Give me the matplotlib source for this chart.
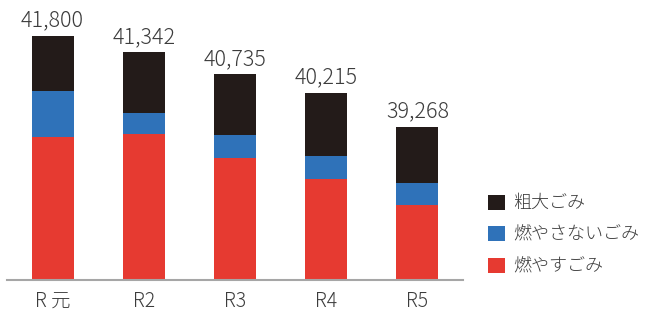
import matplotlib
matplotlib.use('Agg')
import matplotlib.pyplot as plt

plt.rcParams['font.family'] = ['Noto Sans CJK JP', 'DejaVu Sans']
plt.rcParams['font.weight'] = 'light'

# データ
years = ['R 元', 'R2', 'R3', 'R4', 'R5']
moyasu = [38985, 39077, 38408, 37815, 37090]   # 燃やすごみ
moyasanai = [1282, 577, 633, 641, 613]         # 燃やさないごみ
sodai = [1533, 1688, 1694, 1759, 1565]         # 粗大ごみ
totals = [41800, 41342, 40735, 40215, 39268]

c_red = '#e63a31'
c_blue = '#2f72b9'
c_black = '#231b19'
c_text = '#3c3c3c'

fig = plt.figure(figsize=(6.46, 3.16), dpi=100)
ax = fig.add_axes([7/646, 36/316, 456/646, 280/316])

base = 35000
x = range(len(years))
w = 0.46
red_h = [v - base for v in moyasu]
b1 = ax.bar(x, red_h, w, bottom=base, color=c_red, label='燃やすごみ')
bot2 = [v for v in moyasu]
b2 = ax.bar(x, moyasanai, w, bottom=bot2, color=c_blue, label='燃やさないごみ')
bot3 = [a + b for a, b in zip(moyasu, moyasanai)]
b3 = ax.bar(x, sodai, w, bottom=bot3, color=c_black, label='粗大ごみ')

for i, t in enumerate(totals):
    ax.annotate(f'{t:,}', (i, t), xytext=(0, 3), textcoords='offset points',
                ha='center', va='bottom', fontsize=15.5, color=c_text)

ax.set_xlim(-0.5, 4.5)
ax.set_ylim(base, 42800)
for s in ['top', 'right', 'left']:
    ax.spines[s].set_visible(False)
ax.spines['bottom'].set_color('#a6a6a6')
ax.spines['bottom'].set_linewidth(1.5)
ax.set_yticks([])
ax.set_xticks(list(x))
ax.set_xticklabels(years, fontsize=14, color=c_text)
ax.tick_params(axis='x', length=0, pad=8)

fig.legend([b3, b2, b1], ['粗大ごみ', '燃やさないごみ', '燃やすごみ'],
           loc='upper left', bbox_to_anchor=(472/646, 1 - 178/316),
           frameon=False, fontsize=13, labelcolor=c_text,
           handlelength=0.9, handleheight=0.9, handletextpad=0.5,
           labelspacing=0.75)

fig.savefig('out.png', dpi=100)
